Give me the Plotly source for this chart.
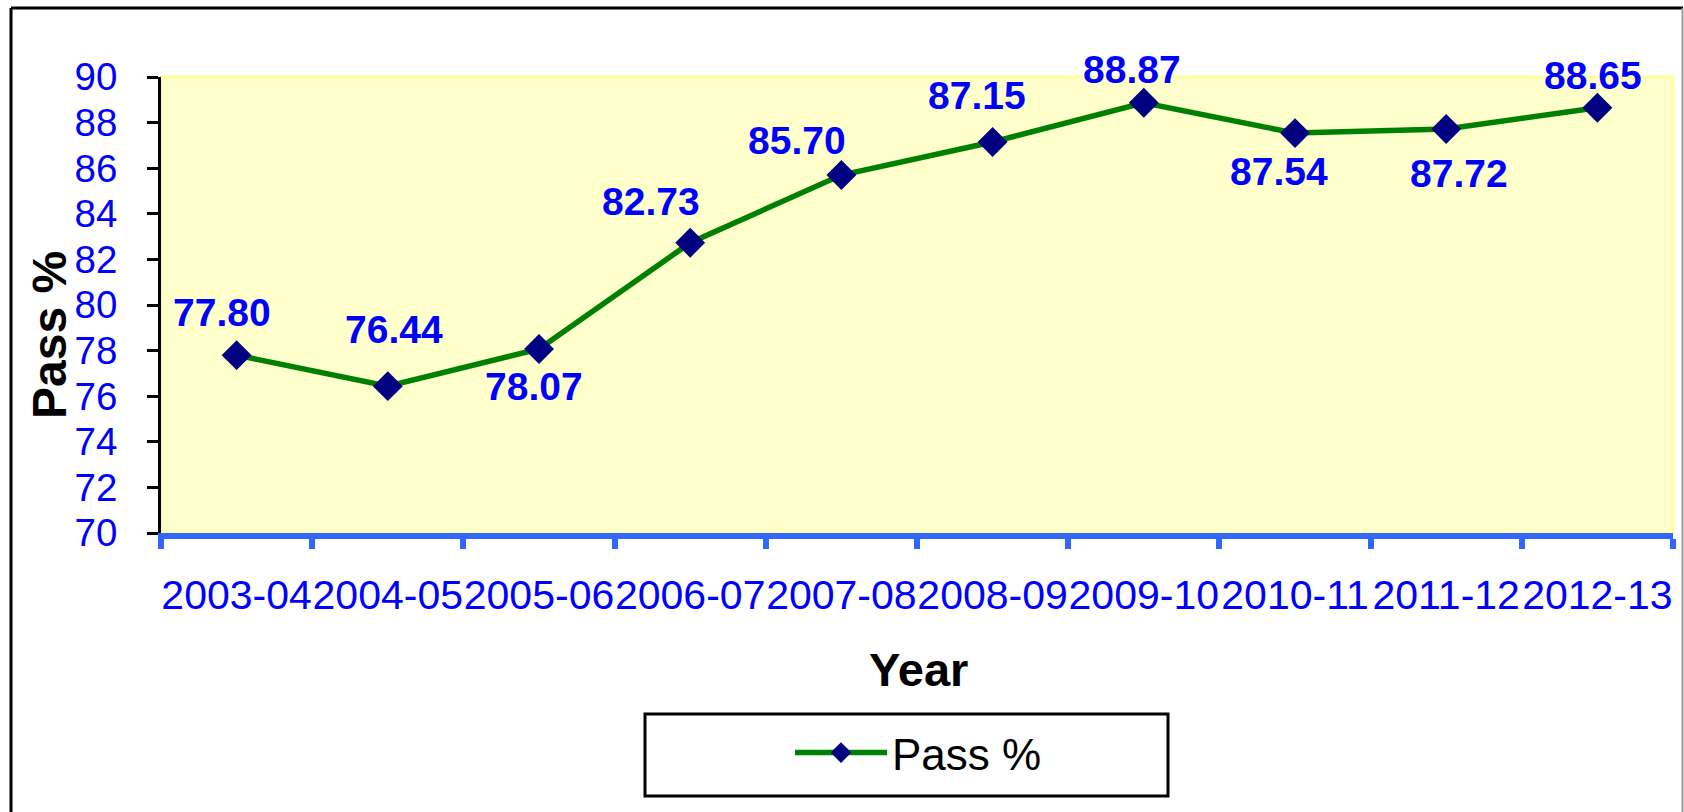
import plotly.graph_objects as go

# ---- data ----
years = ["2003-04", "2004-05", "2005-06", "2006-07", "2007-08",
         "2008-09", "2009-10", "2010-11", "2011-12", "2012-13"]
pass_pct = [77.80, 76.44, 78.07, 82.73, 85.70, 87.15, 88.87, 87.54, 87.72, 88.65]
y_ticks = [70, 72, 74, 76, 78, 80, 82, 84, 86, 88, 90]

# label placement (pixel offsets of each data label from its marker)
label_dx = [-15, 6, -5, -39, -44, -16, -12, -16, 13, -4]
label_dy = [43, 57, -37, 41, 35, 46, 33, -38, -45, 32]

FONT = "Arial, Liberation Sans, sans-serif"
BLUE_TXT = "#0000FF"
AXIS_BLUE = "#3366FF"

W, H = 1684, 812
L, R, T, B = 161, 11, 77, 279
PW, PH = W - L - R, H - T - B


def px_x(px):
    return (px - L) / PW


def px_y(py):
    return (H - B - py) / PH


fig = go.Figure()
fig.add_trace(go.Scatter(
    x=years, y=pass_pct, mode="lines+markers", name="Pass %",
    line=dict(color="#008000", width=5.5),
    marker=dict(symbol="diamond", size=23, color="#000080",
                line=dict(width=0)),
    cliponaxis=False,
))

annotations = []
for cat, v, dx, dy in zip(years, pass_pct, label_dx, label_dy):
    annotations.append(dict(
        x=cat, y=v, xref="x", yref="y", text=f"<b>{v:.2f}</b>",
        showarrow=False, xshift=dx, yshift=dy,
        font=dict(family=FONT, size=39, color=BLUE_TXT),
        xanchor="center", yanchor="middle"))

# axis titles
annotations.append(dict(
    x=px_x(49), y=px_y(335), xref="paper", yref="paper",
    text="<b>Pass %</b>", showarrow=False, textangle=-90,
    font=dict(family=FONT, size=48, color="black"),
    xanchor="center", yanchor="middle"))
annotations.append(dict(
    x=px_x(918), y=px_y(669), xref="paper", yref="paper",
    text="<b>Year</b>", showarrow=False,
    font=dict(family=FONT, size=47, color="black"),
    xanchor="center", yanchor="middle"))

shapes = [
    # plot area yellow border
    dict(type="rect", xref="paper", yref="paper", x0=0, x1=1, y0=0, y1=1,
         line=dict(color="#FFFF99", width=3), layer="below"),
    # legend box
    dict(type="rect", xref="paper", yref="paper",
         x0=px_x(645), x1=px_x(1168), y0=px_y(796), y1=px_y(714),
         line=dict(color="black", width=3), fillcolor="white", layer="below"),
    # outer chart border
    dict(type="line", xref="paper", yref="paper",
         x0=px_x(11), x1=px_x(11), y0=px_y(8), y1=px_y(830),
         line=dict(color="black", width=3)),
    dict(type="line", xref="paper", yref="paper",
         x0=px_x(11), x1=px_x(1683), y0=px_y(8), y1=px_y(8),
         line=dict(color="black", width=3)),
    dict(type="line", xref="paper", yref="paper",
         x0=px_x(1682.5), x1=px_x(1682.5), y0=px_y(8), y1=px_y(830),
         line=dict(color="#999999", width=2)),
]

fig.update_layout(
    width=W, height=H, autosize=False,
    margin=dict(l=L, r=R, t=T, b=B, autoexpand=False),
    paper_bgcolor="white", plot_bgcolor="#FFFFCC",
    font=dict(family=FONT),
    showlegend=True,
    legend=dict(x=px_x(790), y=px_y(753), xanchor="left", yanchor="middle",
                bgcolor="rgba(0,0,0,0)", borderwidth=0, itemwidth=92,
                font=dict(family=FONT, size=44, color="black")),
    annotations=annotations,
    shapes=shapes,
)

fig.update_xaxes(
    type="category", range=[-0.5, 9.5], tickson="boundaries",
    showline=True, linecolor=AXIS_BLUE, linewidth=6,
    ticks="outside", ticklen=10, tickwidth=6, tickcolor=AXIS_BLUE,
    tickfont=dict(family=FONT, size=41, color=BLUE_TXT),
    tickangle=0, automargin=False,
    ticklabelstandoff=21,
    showgrid=False, zeroline=False,
)
fig.update_yaxes(
    range=[70, 90], tickvals=y_ticks,
    showline=True, linecolor="black", linewidth=3,
    ticks="outside", ticklen=11, tickwidth=3, tickcolor="black",
    tickfont=dict(family=FONT, size=38.5, color=BLUE_TXT),
    automargin=False,
    ticklabelstandoff=22,
    showgrid=False, zeroline=False,
)

fig.write_html(
    "out.html",
    config={"displayModeBar": False},
    post_script="document.body.style.margin='0';document.body.style.overflow='hidden';",
)
